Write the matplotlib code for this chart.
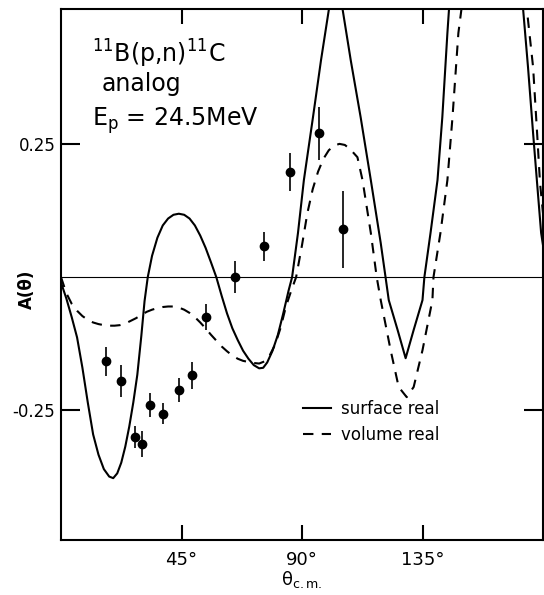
import matplotlib.pyplot as plt

# surface real (solid) curve: angle (deg), A(theta)
surf_x = [0, 2, 4, 6, 8, 10, 12, 14, 16, 18, 19.5, 21, 22.5, 24, 25.5, 27, 28.5, 30, 31.2,
          32.4, 34, 36, 38, 40, 42, 44, 46, 48, 50, 52, 54, 56, 58, 60, 62, 64, 66, 68,
          70, 72, 74, 75.5, 77, 79, 81, 83, 85, 86.3, 88.5, 90.7, 94.1, 97.1, 100.0,
          102.6, 105.2, 108.2, 111.9, 115.7, 119.4, 121.2, 122.4, 125.7, 128.7, 131.7,
          135.0, 135.7, 138.0, 140.6, 142.4, 144.3, 145.4, 158.0, 171.8, 172.6, 174.4,
          176.3, 177.8, 179.3, 180.0]
surf_y = [-0.01, -0.04, -0.075, -0.113, -0.17, -0.235, -0.295, -0.333, -0.36, -0.374,
          -0.377, -0.368, -0.348, -0.318, -0.28, -0.235, -0.183, -0.11, -0.045, 0.0,
          0.04, 0.074, 0.097, 0.110, 0.117, 0.119, 0.117, 0.110, 0.097, 0.078, 0.055,
          0.028, 0.0, -0.035, -0.068, -0.096, -0.118, -0.138, -0.153, -0.165, -0.171,
          -0.170, -0.160, -0.138, -0.108, -0.068, -0.025, 0.0, 0.083, 0.182, 0.300, 0.407,
          0.501, 0.56, 0.501, 0.407, 0.300, 0.182, 0.064, 0.0, -0.043, -0.099, -0.152,
          -0.099, -0.043, 0.0, 0.083, 0.182, 0.300, 0.458, 0.54, 1.0, 0.54, 0.501, 0.394,
          0.270, 0.176, 0.083, 0.06]

# volume real (dashed) curve
vol_x = [0, 2, 4, 6, 8, 10, 12, 14, 16, 18, 20, 22, 24, 26, 28, 30, 32, 34, 36, 38, 40,
         42, 44, 46, 48, 50, 52, 54, 56, 58, 60, 62, 64, 66, 68, 70, 72, 74, 76, 78, 80,
         82, 84, 86, 87.8, 90, 92, 94, 96, 98, 100, 102, 104, 106, 108, 110.7, 112.6,
         115.7, 117.9, 119.4, 123.1, 126.1, 129.1, 131.7, 135.0, 138.7, 139.1, 141.7,
         144.3, 146.2, 148.4, 149.5, 161.0, 174.0, 176.3, 177.8, 178.9, 180.0]
vol_y = [0.0, -0.03, -0.05, -0.063, -0.073, -0.080, -0.085, -0.088, -0.090, -0.091,
         -0.091, -0.090, -0.087, -0.082, -0.077, -0.071, -0.065, -0.061, -0.058, -0.056,
         -0.055, -0.055, -0.057, -0.061, -0.067, -0.075, -0.085, -0.096, -0.108, -0.119,
         -0.13, -0.139, -0.147, -0.153, -0.157, -0.159, -0.161, -0.162, -0.158, -0.146,
         -0.126, -0.095, -0.055, -0.025, 0.0, 0.06, 0.12, 0.165, 0.198, 0.222, 0.238,
         0.247, 0.250, 0.248, 0.24, 0.225, 0.182, 0.083, 0.0, -0.043, -0.137, -0.206,
         -0.225, -0.206, -0.137, -0.043, 0.0, 0.083, 0.182, 0.300, 0.458, 0.501, 0.9,
         0.501, 0.394, 0.270, 0.176, 0.12]

# measured points
pts_x = [16.7, 22.3, 27.5, 30.2, 33.2, 38.0, 43.9, 49.1, 54.3, 65.1, 75.8, 85.5, 96.3, 105.2]
pts_y = [-0.158, -0.195, -0.300, -0.313, -0.240, -0.256, -0.212, -0.184, -0.075, 0.000,
         0.058, 0.197, 0.270, 0.090]
pts_err = [0.027, 0.030, 0.020, 0.025, 0.023, 0.020, 0.022, 0.025, 0.025, 0.030, 0.027,
           0.036, 0.050, 0.072]

xticks = [45, 90, 135]
xticklabels = ['45°', '90°', '135°']
yticks = [-0.25, 0.25]
yticklabels = ['-0.25', '0.25']

fig = plt.figure(figsize=(5.44, 5.95), dpi=100)
ax = fig.add_axes([61 / 544, 55 / 595, 482 / 544, 531 / 595])

ax.axhline(0, color='black', lw=0.8)
ax.plot(surf_x, surf_y, color='black', lw=1.5, label='surface real')
ax.plot(vol_x, vol_y, color='black', lw=1.5, ls=(0, (5, 4)), label='volume real')
ax.errorbar(pts_x, pts_y, yerr=pts_err, fmt='o', color='black', ms=6, elinewidth=1.2,
            capsize=0)

ax.set_xlim(0, 180)
ax.set_ylim(-0.493, 0.503)
ax.set_xticks(xticks)
ax.set_xticklabels(xticklabels, fontsize=13)
ax.set_yticks(yticks)
ax.set_yticklabels(yticklabels, fontsize=12)
ax.tick_params(axis='x', direction='in', length=11, width=1.5, top=True, pad=8)
ax.tick_params(axis='y', direction='in', length=14, width=1.5, right=True, pad=4)
for s in ax.spines.values():
    s.set_linewidth(1.5)

ax.set_xlabel('θ$_{\\rm c.m.}$', fontsize=13, labelpad=0)
fig.text(0.05, 0.513, 'A(θ)', rotation=90, fontsize=12, fontweight='bold',
         ha='center', va='center')

ax.text(0.065, 0.915, '$^{11}$B(p,n)$^{11}$C', transform=ax.transAxes, fontsize=17,
        va='center')
ax.text(0.085, 0.858, 'analog', transform=ax.transAxes, fontsize=17, va='center')
ax.text(0.065, 0.79, 'E$_{\\rm p}$ = 24.5MeV', transform=ax.transAxes, fontsize=17,
        va='center')

ax.legend(loc='upper left', bbox_to_anchor=(0.471, 0.292), frameon=False, fontsize=12,
          handlelength=1.7, handletextpad=0.6, labelspacing=0.5)

fig.savefig('out.png', dpi=100)
